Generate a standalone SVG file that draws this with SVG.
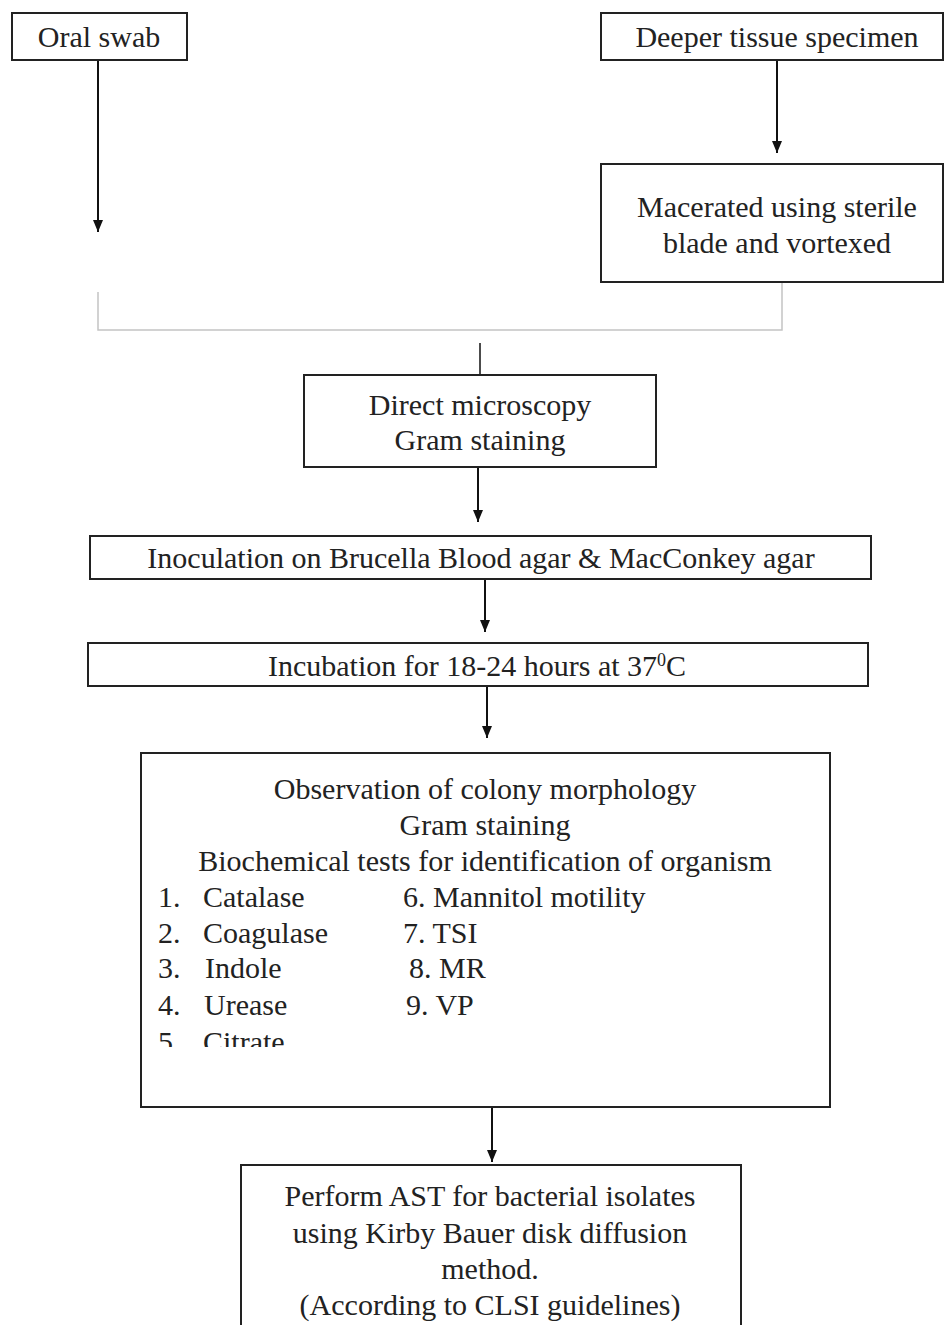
<svg xmlns="http://www.w3.org/2000/svg" width="945" height="1325" viewBox="0 0 945 1325">
<style>
.box{fill:#fff;stroke:#222;stroke-width:2}
.t{font-family:"Liberation Serif","Times New Roman",serif;font-size:30px;fill:#222}
.c{text-anchor:middle}
.ln{stroke:#111;stroke-width:2;fill:none}
.lt{stroke:#c4c4c4;stroke-width:1.5;fill:none}
</style>
<defs>
<marker id="ah" markerWidth="12" markerHeight="10" refX="12" refY="5" orient="auto" markerUnits="userSpaceOnUse" viewBox="0 0 12 10">
<path d="M0,0 L12,5 L0,10 Z" fill="#111"/>
</marker>
<clipPath id="clipObs"><rect x="141" y="753" width="689" height="294"/></clipPath>
</defs>
<rect width="945" height="1325" fill="#fff"/>
<g id="connectors">
<line class="ln" x1="98" y1="60" x2="98" y2="232" marker-end="url(#ah)"/>
<line class="ln" x1="777" y1="60" x2="777" y2="153" marker-end="url(#ah)"/>
<polyline class="lt" points="98,292 98,330 782,330 782,282"/>
<line class="ln" x1="480" y1="343" x2="480" y2="375" style="stroke-width:1.5"/>
<line class="ln" x1="478" y1="467" x2="478" y2="522" marker-end="url(#ah)"/>
<line class="ln" x1="485" y1="579" x2="485" y2="632" marker-end="url(#ah)"/>
<line class="ln" x1="487" y1="686" x2="487" y2="738" marker-end="url(#ah)"/>
<line class="ln" x1="492" y1="1107" x2="492" y2="1162" marker-end="url(#ah)"/>
</g>
<g id="oral-swab">
<rect class="box" x="12" y="13" width="175" height="47"/>
<text class="t c" x="99" y="47">Oral swab</text>
</g>
<g id="deeper-tissue">
<rect class="box" x="601" y="13" width="342" height="47"/>
<text class="t c" x="777" y="47">Deeper tissue specimen</text>
</g>
<g id="macerated">
<rect class="box" x="601" y="164" width="342" height="118"/>
<text class="t c" x="777" y="217">Macerated using sterile</text>
<text class="t c" x="777" y="253">blade and vortexed</text>
</g>
<g id="direct-microscopy">
<rect class="box" x="304" y="375" width="352" height="92"/>
<text class="t c" x="480" y="415">Direct microscopy</text>
<text class="t c" x="480" y="450">Gram staining</text>
</g>
<g id="inoculation">
<rect class="box" x="90" y="536" width="781" height="43"/>
<text class="t c" x="481" y="568">Inoculation on Brucella Blood agar &amp; MacConkey agar</text>
</g>
<g id="incubation">
<rect class="box" x="88" y="643" width="780" height="43"/>
<text class="t c" x="477" y="676">Incubation for 18-24 hours at 37<tspan font-size="18" dy="-10">0</tspan><tspan dy="10">C</tspan></text>
</g>
<g id="observation">
<rect class="box" x="141" y="753" width="689" height="354"/>
<text class="t c" x="485" y="799">Observation of colony morphology</text>
<text class="t c" x="485" y="835">Gram staining</text>
<text class="t c" x="485" y="871">Biochemical tests for identification of organism</text>
<text class="t" x="158" y="907">1.</text><text class="t" x="203" y="907">Catalase</text>
<text class="t" x="158" y="943">2.</text><text class="t" x="203" y="943">Coagulase</text>
<text class="t" x="158" y="978">3.</text><text class="t" x="205" y="978">Indole</text>
<text class="t" x="158" y="1015">4.</text><text class="t" x="204" y="1015">Urease</text>
<g clip-path="url(#clipObs)">
<text class="t" x="158" y="1052">5.</text><text class="t" x="203" y="1052">Citrate</text>
</g>
<text class="t" x="403" y="907">6. Mannitol motility</text>
<text class="t" x="403" y="943">7. TSI</text>
<text class="t" x="409" y="978">8. MR</text>
<text class="t" x="406" y="1015">9. VP</text>
</g>
<g id="ast">
<rect class="box" x="241" y="1165" width="500" height="180"/>
<text class="t c" x="490" y="1206">Perform AST for bacterial isolates</text>
<text class="t c" x="490" y="1243">using Kirby Bauer disk diffusion</text>
<text class="t c" x="490" y="1279">method.</text>
<text class="t c" x="490" y="1315">(According to CLSI guidelines)</text>
</g>
</svg>
